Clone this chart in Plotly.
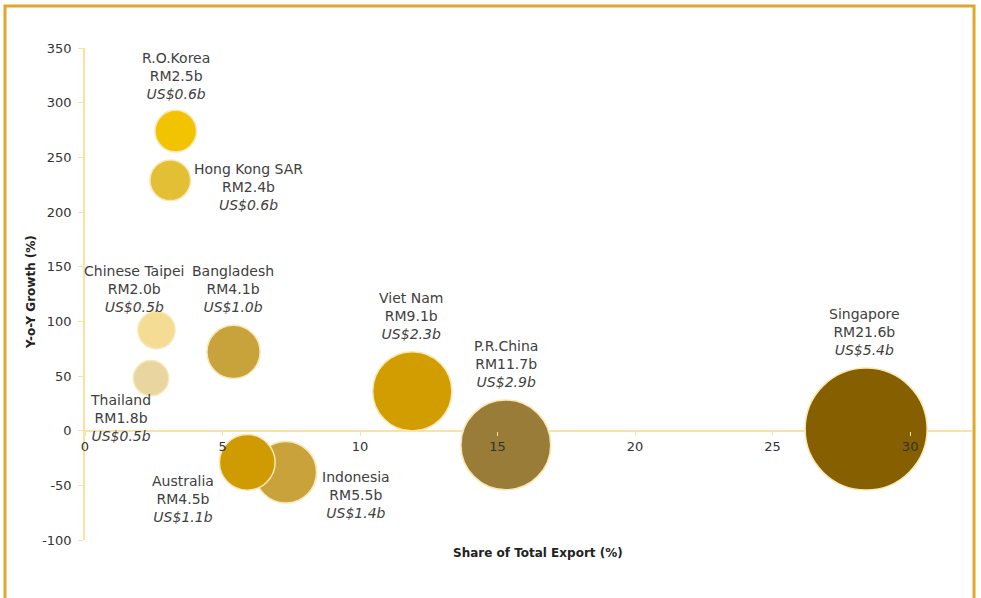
import plotly.graph_objects as go

# Data
countries = ["R.O.Korea", "Hong Kong SAR", "Chinese Taipei", "Thailand", "Bangladesh",
             "Indonesia", "Australia", "Viet Nam", "P.R.China", "Singapore"]
share = [3.3, 3.1, 2.6, 2.4, 5.4, 7.3, 5.9, 11.9, 15.3, 28.4]      # share of total export (%)
growth = [274, 229, 92, 48, 72, -38, -29, 36, -13, 1.5]            # y-o-y growth (%)
rm_bn = [2.5, 2.4, 2.0, 1.8, 4.1, 5.5, 4.5, 9.1, 11.7, 21.6]       # RM billion
usd_bn = [0.6, 0.6, 0.5, 0.5, 1.0, 1.4, 1.1, 2.3, 2.9, 5.4]        # US$ billion

# axis ticks
x_ticks = [0, 5, 10, 15, 20, 25, 30]
y_ticks = [-100, -50, 0, 50, 100, 150, 200, 250, 300, 350]

# styling
colors = ["#F2C300", "#E2BF35", "#F5DC95", "#E8D5A0", "#C8A23B",
          "#C9A23C", "#CF9B00", "#D29D00", "#987C38", "#866000"]
# label offsets from bubble centre in px (dx right, dy up)
label_dx = [0, 78, -23, -31, -1, 70, -64, -1, 0, -2]
label_dy = [55, -7, 41, -40, 63, -23, -37, 75, 81, 97]

font_family = "DejaVu Sans"
text_color = "#404040"
axis_color = "#F8E3A3"
frame_color = "#E2A62A"

max_diam = 122
sizeref = 2 * max(rm_bn) / max_diam ** 2

fig = go.Figure()
fig.add_trace(go.Scatter(
    x=share, y=growth, mode="markers",
    marker=dict(size=rm_bn, sizemode="area", sizeref=sizeref, color=colors,
                opacity=1, line=dict(color="#F7E8B5", width=1.5)),
    text=countries, hoverinfo="text", showlegend=False,
))

for i in range(len(countries)):
    fig.add_annotation(
        x=share[i], y=growth[i], xref="x", yref="y",
        text="%s<br>RM%.1fb<br><i>US$%.1fb</i>" % (countries[i], rm_bn[i], usd_bn[i]),
        showarrow=False, xshift=label_dx[i], yshift=label_dy[i],
        font=dict(family=font_family, size=14, color=text_color), align="center",
    )

y_min, y_max = -100, 350

fig.add_annotation(text="<b>Share of Total Export (%)</b>", xref="paper", yref="paper",
                   x=0.511, y=-0.026, xanchor="center", yanchor="middle", showarrow=False,
                   font=dict(family=font_family, size=12, color="#222222"))
fig.add_annotation(text="<b>Y-o-Y Growth (%)</b>", xref="paper", yref="paper",
                   x=-0.061, y=0.504, xanchor="center", yanchor="middle",
                   textangle=-90, showarrow=False,
                   font=dict(family=font_family, size=12, color="#222222"))

# orange frame (bottom edge runs off the picture)
fig.add_shape(type="rect", xref="paper", yref="paper", x0=-0.0902, x1=1.0023,
              y0=-0.3, y1=1.0854, line=dict(color=frame_color, width=3), layer="above")

fig.update_layout(
    width=981, height=598,
    margin=dict(l=85, r=9, t=48, b=58),
    paper_bgcolor="white", plot_bgcolor="white",
    font=dict(family=font_family, size=13, color=text_color),
    xaxis=dict(range=[0, 32.25], tickvals=x_ticks, ticktext=[str(v) for v in x_ticks],
               showgrid=False, zeroline=False,
               showline=False, anchor="free", position=(0 - y_min) / (y_max - y_min),
               ticks="outside", ticklen=4, tickcolor=axis_color,
               tickfont=dict(size=13, color="#333333")),
    yaxis=dict(range=[y_min, y_max], tickvals=y_ticks, ticktext=[str(v) for v in y_ticks],
               showgrid=False, zeroline=True,
               zerolinecolor=axis_color, zerolinewidth=1.5,
               showline=True, linecolor=axis_color, linewidth=1.5,
               ticks="outside", ticklen=5, tickcolor=axis_color, ticklabelstandoff=4,
               tickfont=dict(size=13, color="#333333")),
)

fig.write_html("out.html", config={"displayModeBar": False},
               post_script="document.body.style.margin='0';")
